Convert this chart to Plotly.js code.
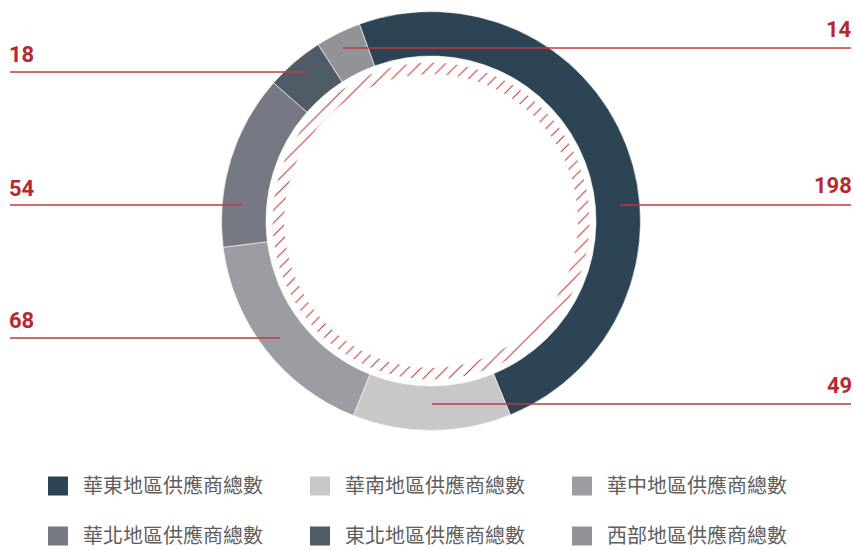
<!DOCTYPE html>
<html>
<head>
<meta charset="utf-8">
<script src="https://cdn.plot.ly/plotly-3.0.1.min.js"></script>
<style>
  html, body { margin: 0; padding: 0; background: #ffffff; }
  #chart { width: 854px; height: 550px; }
</style>
</head>
<body>
<div id="chart"></div>
<script>
// ---- data ----
const categories = ['華東地區供應商總數', '華南地區供應商總數', '華中地區供應商總數', '華北地區供應商總數', '東北地區供應商總數', '西部地區供應商總數'];
const values = [198, 49, 68, 54, 18, 14];
const colors = ['#2d4454', '#c8c7ca', '#9c9da2', '#767883', '#505b68', '#929397'];

// ---- layout config (pixels) ----
const W = 854, H = 550;
const cx = 431, cy = 221, R = 209.5, rIn = 165;
const hatchOuter = 158.5, hatchInner = 147;
const red = '#b8282f';
const lineRed = '#c0393f';

// label / leader-line placement per slice (same order as data)
const labelSide = ['right', 'right', 'left', 'left', 'left', 'right'];
const lineY = [205, 404, 338, 205, 72, 48];
const lineInnerX = [620, 432, 280, 242, 308, 343];
const labelY = [186, 385, 320.5, 188, 55, 29.5];

const px = x => x / W;
const py = y => 1 - y / H;

const donut = {
  type: 'pie',
  values: values,
  labels: categories,
  marker: { colors: colors, line: { color: '#ffffff', width: 0.6 } },
  hole: rIn / R,
  sort: false,
  direction: 'clockwise',
  rotation: -20,
  textinfo: 'none',
  hoverinfo: 'none',
  showlegend: false,
  domain: { x: [px(cx - R), px(cx + R)], y: [py(cy + R), py(cy - R)] }
};

const hatch = {
  type: 'pie',
  values: [1],
  labels: ['hatch'],
  marker: {
    colors: ['#ffffff'],
    line: { width: 0 },
    pattern: { shape: '/', fgcolor: '#bf2f39', bgcolor: '#ffffff', size: 9, solidity: 0.11 }
  },
  hole: hatchInner / hatchOuter,
  sort: false,
  textinfo: 'none',
  hoverinfo: 'none',
  showlegend: false,
  domain: { x: [px(cx - hatchOuter), px(cx + hatchOuter)], y: [py(cy + hatchOuter), py(cy - hatchOuter)] }
};

const shapes = [];
const annotations = [];

values.forEach((v, i) => {
  const right = labelSide[i] === 'right';
  const outerX = right ? 851 : 10;
  shapes.push({
    type: 'line', xref: 'paper', yref: 'paper',
    x0: px(lineInnerX[i]), x1: px(outerX), y0: py(lineY[i]), y1: py(lineY[i]),
    line: { color: lineRed, width: 1.5 }
  });
  annotations.push({
    xref: 'paper', yref: 'paper',
    x: px(outerX), y: py(labelY[i]),
    xanchor: right ? 'right' : 'left', yanchor: 'middle',
    text: '<b>' + v + '</b>', showarrow: false,
    font: { family: 'Roboto, sans-serif', size: 22, color: red },
    borderpad: 0, xshift: right ? 2 : -2
  });
});

// legend built from categories/colors
const legCol0 = 48, legColStep = 262, legRow0 = 486, legRowStep = 50, sq = 19;
categories.forEach((c, i) => {
  const col = i % 3, row = Math.floor(i / 3);
  const x0 = legCol0 + col * legColStep;
  const yc = legRow0 + row * legRowStep;
  shapes.push({
    type: 'rect', xref: 'paper', yref: 'paper',
    x0: px(x0), x1: px(x0 + 20), y0: py(yc + sq / 2), y1: py(yc - sq / 2),
    fillcolor: colors[i], line: { width: 0 }
  });
  annotations.push({
    xref: 'paper', yref: 'paper',
    x: px(x0 + 34), y: py(yc - 2),
    xanchor: 'left', yanchor: 'middle',
    text: c, showarrow: false, borderpad: 0,
    font: { family: '"Noto Sans CJK TC", sans-serif', size: 20, color: '#5e5e5e' }
  });
});

const layout = {
  width: W, height: H,
  margin: { l: 0, r: 0, t: 0, b: 0 },
  paper_bgcolor: '#ffffff',
  plot_bgcolor: '#ffffff',
  showlegend: false,
  font: { family: '"Noto Sans CJK TC", sans-serif' },
  shapes: shapes,
  annotations: annotations
};

Plotly.newPlot('chart', [hatch, donut], layout, { staticPlot: true, displayModeBar: false });
</script>
</body>
</html>
